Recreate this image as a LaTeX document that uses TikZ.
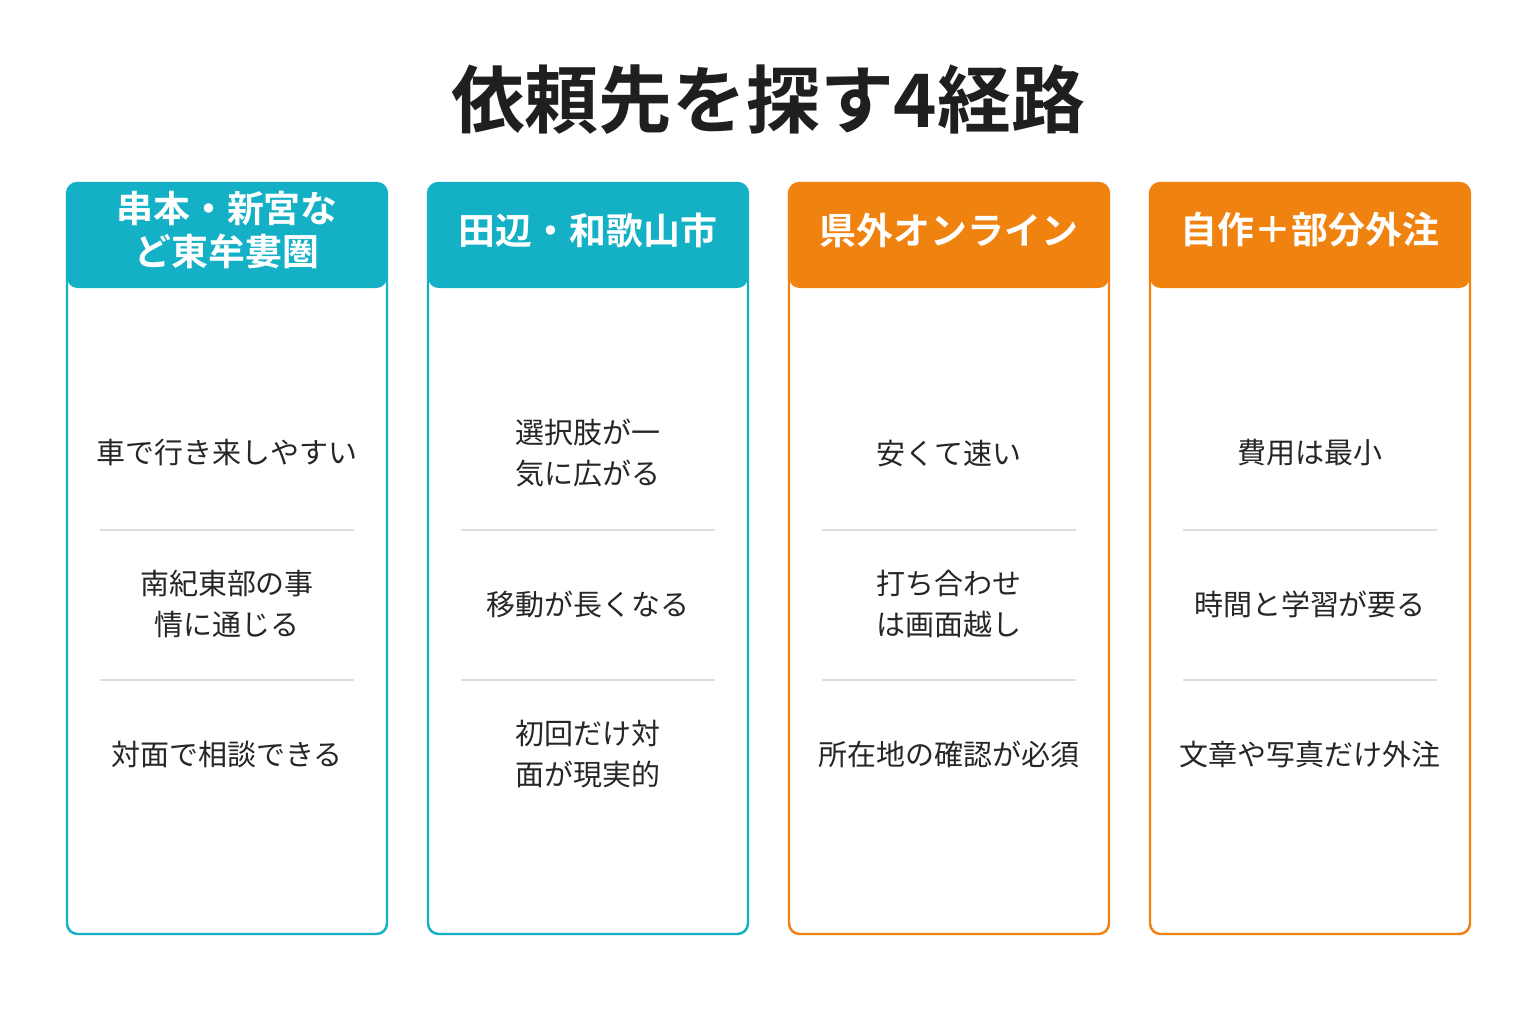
\documentclass[tikz,border=0pt]{standalone}
\usepackage{fontspec}
\setmainfont{Noto Sans CJK JP}[BoldFont={Noto Sans CJK JP Bold}]
\begin{document}
\definecolor{teal}{HTML}{14B1C6}
\definecolor{orng}{HTML}{F0820F}
\definecolor{sep}{HTML}{DDDDDD}
\begin{tikzpicture}[x=0.02cm,y=-0.02cm,
  card/.style={draw=#1, line width=1.4pt, rounded corners=6pt},
  head/.style={fill=#1, rounded corners=6pt},
  htxt/.style={text=white, font=\bfseries\fontsize{21}{24}\selectfont, align=center},
  btxt/.style={text=black!85, font=\fontsize{16.5}{23}\selectfont, align=center},
  sline/.style={draw=sep, line width=0.8pt}]
\fill[white] (0,0) rectangle (1536,1024);
\useasboundingbox (0,0) rectangle (1536,1024);
\node[font=\bfseries\fontsize{42}{46}\selectfont, text=black!88] (title) at (768,100) {依頼先を探す4経路};
\foreach \i/\x/\c/\h/\a/\b/\cc in {
 1/67/teal/{串本・新宮な\\ど東牟婁圏}/{車で行き来しやすい}/{南紀東部の事\\情に通じる}/{対面で相談できる},
 2/428/teal/{田辺・和歌山市}/{選択肢が一\\気に広がる}/{移動が長くなる}/{初回だけ対\\面が現実的},
 3/789/orng/{県外オンライン}/{安くて速い}/{打ち合わせ\\は画面越し}/{所在地の確認が必須},
 4/1150/orng/{自作＋部分外注}/{費用は最小}/{時間と学習が要る}/{文章や写真だけ外注}}{
  \fill[head=\c] (\x,183) rectangle ++(320,105);
  \draw[card=\c] (\x,183) rectangle ++(320,751);
  \node[htxt] (h\i) at (\x+160,230) {\h};
  \node[btxt] (a\i) at (\x+160,453) {\a};
  \node[btxt] (b\i) at (\x+160,604) {\b};
  \node[btxt] (c\i) at (\x+160,754) {\cc};
  \coordinate (s\i l1) at (\x+33,530); \coordinate (s\i r1) at (\x+287,530);
  \coordinate (s\i l2) at (\x+33,680); \coordinate (s\i r2) at (\x+287,680);
  \draw[sline] (s\i l1) -- (s\i r1);
  \draw[sline] (s\i l2) -- (s\i r2);
}
\end{tikzpicture}
\end{document}
